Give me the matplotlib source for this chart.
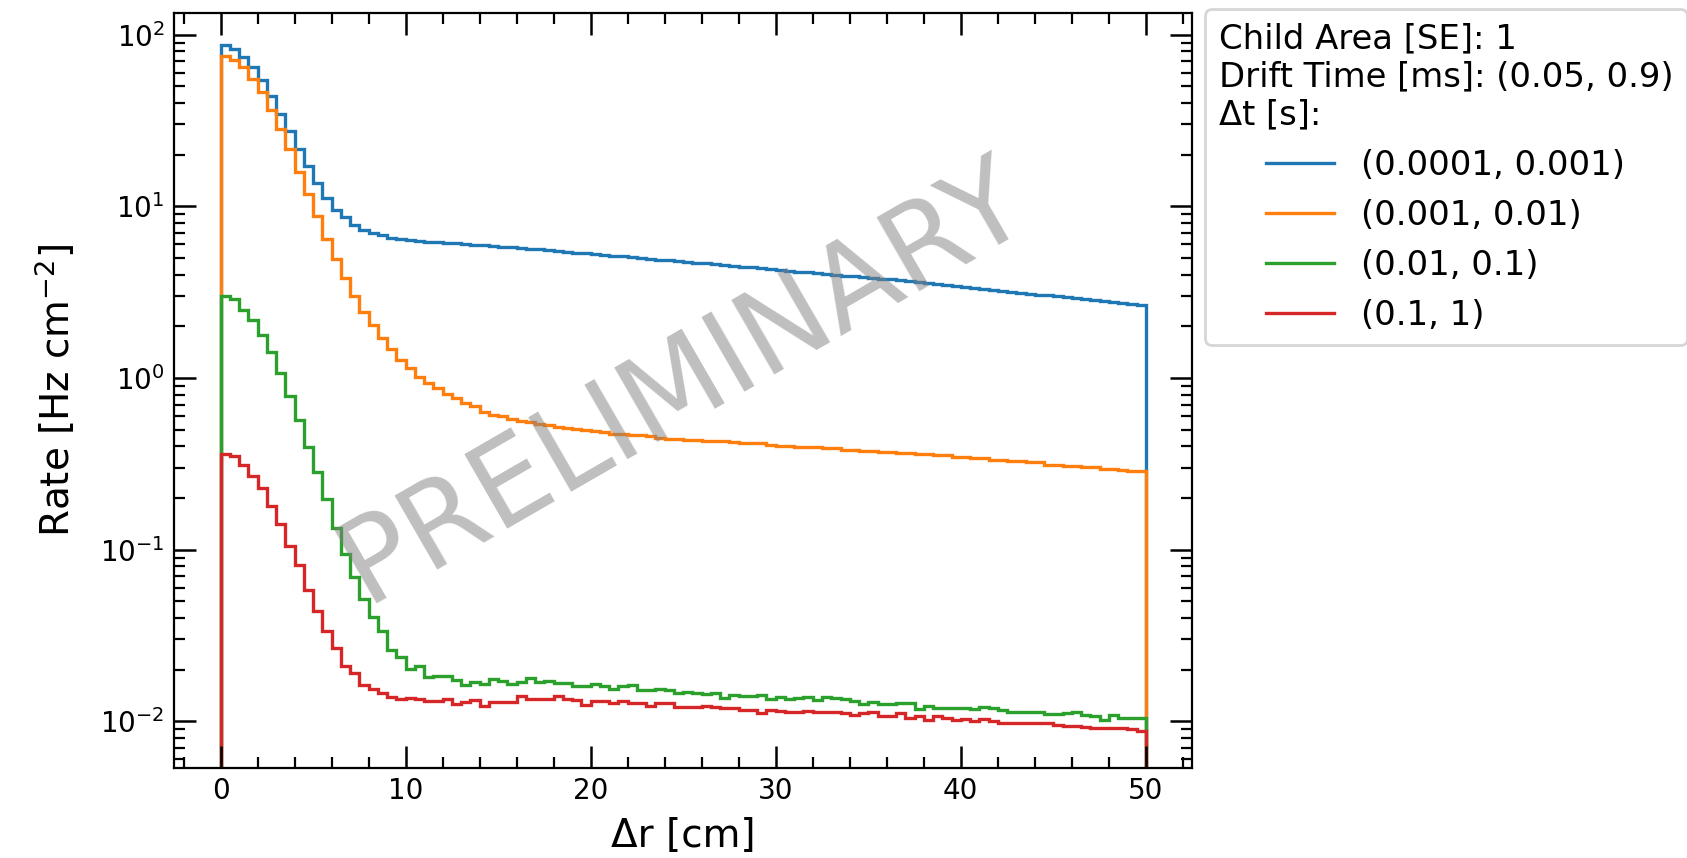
import numpy as np
import matplotlib
matplotlib.use("Agg")
import matplotlib.pyplot as plt
from matplotlib.ticker import AutoMinorLocator

# delta r binning [cm], 100 bins of 0.5 cm
bin_edges = np.linspace(0, 50, 101)

dt_labels = ["(0.0001, 0.001)", "(0.001, 0.01)", "(0.01, 0.1)", "(0.1, 1)"]

# rate per bin [Hz cm^-2]
rate_dt_0001_001 = [
    86.8, 82.6, 74.2, 64.9, 54.7, 43.8, 34.7, 27.4, 21.6, 17.1,
    13.7, 11.2, 9.57, 8.63, 7.82, 7.31, 7.00, 6.78, 6.55, 6.46,
    6.34, 6.27, 6.24, 6.18, 6.14, 6.08, 6.03, 5.97, 5.92, 5.87,
    5.82, 5.77, 5.71, 5.66, 5.61, 5.55, 5.50, 5.43, 5.38, 5.32,
    5.27, 5.21, 5.16, 5.11, 5.06, 5.00, 4.95, 4.90, 4.85, 4.80,
    4.74, 4.70, 4.65, 4.60, 4.55, 4.50, 4.45, 4.41, 4.36, 4.31,
    4.26, 4.22, 4.17, 4.12, 4.08, 4.04, 4.00, 3.95, 3.91, 3.87,
    3.83, 3.79, 3.75, 3.71, 3.66, 3.61, 3.56, 3.52, 3.47, 3.42,
    3.37, 3.33, 3.28, 3.24, 3.21, 3.17, 3.13, 3.10, 3.06, 3.03,
    2.99, 2.96, 2.92, 2.89, 2.85, 2.81, 2.77, 2.74, 2.70, 2.66,
]
rate_dt_001_01 = [
    74.8, 71.6, 64.6, 55.5, 46.2, 36.6, 28.4, 21.6, 15.8, 11.86,
    8.75, 6.48, 4.96, 3.82, 2.99, 2.44, 2.05, 1.72, 1.47, 1.28,
    1.15, 1.02, 0.935, 0.874, 0.81, 0.764, 0.714, 0.683, 0.638, 0.611,
    0.597, 0.579, 0.560, 0.551, 0.540, 0.530, 0.520, 0.515, 0.503, 0.497,
    0.490, 0.486, 0.475, 0.471, 0.465, 0.463, 0.460, 0.447, 0.444, 0.442,
    0.436, 0.433, 0.431, 0.430, 0.429, 0.426, 0.420, 0.418, 0.416, 0.407,
    0.404, 0.401, 0.399, 0.396, 0.396, 0.392, 0.392, 0.382, 0.382, 0.378,
    0.378, 0.371, 0.371, 0.366, 0.366, 0.359, 0.359, 0.355, 0.355, 0.349,
    0.349, 0.342, 0.342, 0.334, 0.334, 0.327, 0.327, 0.323, 0.323, 0.313,
    0.313, 0.309, 0.309, 0.303, 0.303, 0.297, 0.297, 0.290, 0.288, 0.287,
]
rate_dt_01_1 = [
    3.02, 2.89, 2.50, 2.19, 1.79, 1.42, 1.07, 0.789, 0.571, 0.399,
    0.282, 0.197, 0.134, 0.0943, 0.0698, 0.0518, 0.0405, 0.0338, 0.0261, 0.0237,
    0.0201, 0.0209, 0.0181, 0.0185, 0.0184, 0.0175, 0.0163, 0.0169, 0.0165, 0.0176,
    0.0171, 0.0166, 0.0169, 0.0178, 0.0170, 0.0171, 0.0167, 0.0168, 0.0161, 0.0160,
    0.0165, 0.0161, 0.0155, 0.0160, 0.0163, 0.0153, 0.0152, 0.0155, 0.0152, 0.0146,
    0.0148, 0.0146, 0.0145, 0.0146, 0.0136, 0.0143, 0.0140, 0.0140, 0.0142, 0.0135,
    0.0138, 0.0135, 0.0136, 0.0138, 0.0133, 0.0139, 0.0136, 0.0135, 0.0132, 0.0126,
    0.0129, 0.0127, 0.0126, 0.0128, 0.0128, 0.0118, 0.0123, 0.0119, 0.0119, 0.0120,
    0.0119, 0.0118, 0.0121, 0.0119, 0.0116, 0.0114, 0.0113, 0.0114, 0.0114, 0.0110,
    0.0110, 0.0112, 0.0113, 0.0109, 0.0108, 0.0102, 0.0109, 0.0104, 0.0105, 0.0104,
]
rate_dt_1_10 = [
    0.360, 0.352, 0.310, 0.267, 0.229, 0.179, 0.142, 0.105, 0.081, 0.0579,
    0.0439, 0.0338, 0.0267, 0.0211, 0.0192, 0.0162, 0.0154, 0.0146, 0.0138, 0.0135,
    0.0136, 0.0135, 0.0132, 0.0132, 0.0135, 0.0126, 0.0129, 0.0133, 0.0123, 0.0130,
    0.0129, 0.0129, 0.0140, 0.0135, 0.0135, 0.0135, 0.0141, 0.0135, 0.0133, 0.0125,
    0.0132, 0.0131, 0.0128, 0.0131, 0.0128, 0.0128, 0.0123, 0.0128, 0.0128, 0.0121,
    0.0122, 0.0121, 0.0123, 0.0121, 0.0119, 0.0119, 0.0117, 0.0116, 0.0112, 0.0117,
    0.0115, 0.0114, 0.0114, 0.0115, 0.0113, 0.0114, 0.0114, 0.0112, 0.0109, 0.0112,
    0.0113, 0.0108, 0.0108, 0.0112, 0.0105, 0.0107, 0.0102, 0.0108, 0.0104, 0.0102,
    0.0103, 0.0100, 0.0103, 0.0101, 0.00975, 0.00975, 0.0098, 0.0098, 0.00975, 0.0098,
    0.00954, 0.0094, 0.0094, 0.00933, 0.00912, 0.00912, 0.0092, 0.00912, 0.0090, 0.0088,
]

all_rates = [rate_dt_0001_001, rate_dt_001_01, rate_dt_01_1, rate_dt_1_10]
colors = ["tab:blue", "tab:orange", "tab:green", "tab:red"]

fig = plt.figure(figsize=(8.435, 4.29), dpi=200)
ax = fig.add_axes([0.1034, 0.1052, 0.6032, 0.8798])

for rates, label, c in zip(all_rates, dt_labels, colors):
    # baseline far below the axis so the outer edges run down to the frame
    ax.stairs(rates, bin_edges, baseline=1e-6, color=c, lw=1.2, label=label)

ax.set_yscale("log")
ax.set_xlim(-2.5, 52.5)
ax.set_ylim(5.37e-3, 134)
ax.set_xlabel("Δr [cm]", fontsize=14)
ax.set_ylabel("Rate [Hz cm$^{-2}$]", fontsize=14, labelpad=8)

ax.xaxis.set_minor_locator(AutoMinorLocator(5))
ax.tick_params(which="both", direction="in", top=True, right=True, labelsize=10)
ax.tick_params(which="major", length=8, width=0.9)
ax.tick_params(which="minor", length=4, width=0.8)

ax.text(0.5, 0.51, "PRELIMINARY", transform=ax.transAxes, fontsize=42,
        color="gray", alpha=0.5, rotation=30, ha="center", va="center")

title = "Child Area [SE]: 1\nDrift Time [ms]: (0.05, 0.9)\nΔt [s]:"
leg = ax.legend(title=title, loc="upper left", bbox_to_anchor=(1.0128, 1.0053),
                borderaxespad=0, fontsize=12.2, title_fontsize=12.2)
leg.get_title().set_multialignment("left")

fig.savefig("out.png", dpi=200)
